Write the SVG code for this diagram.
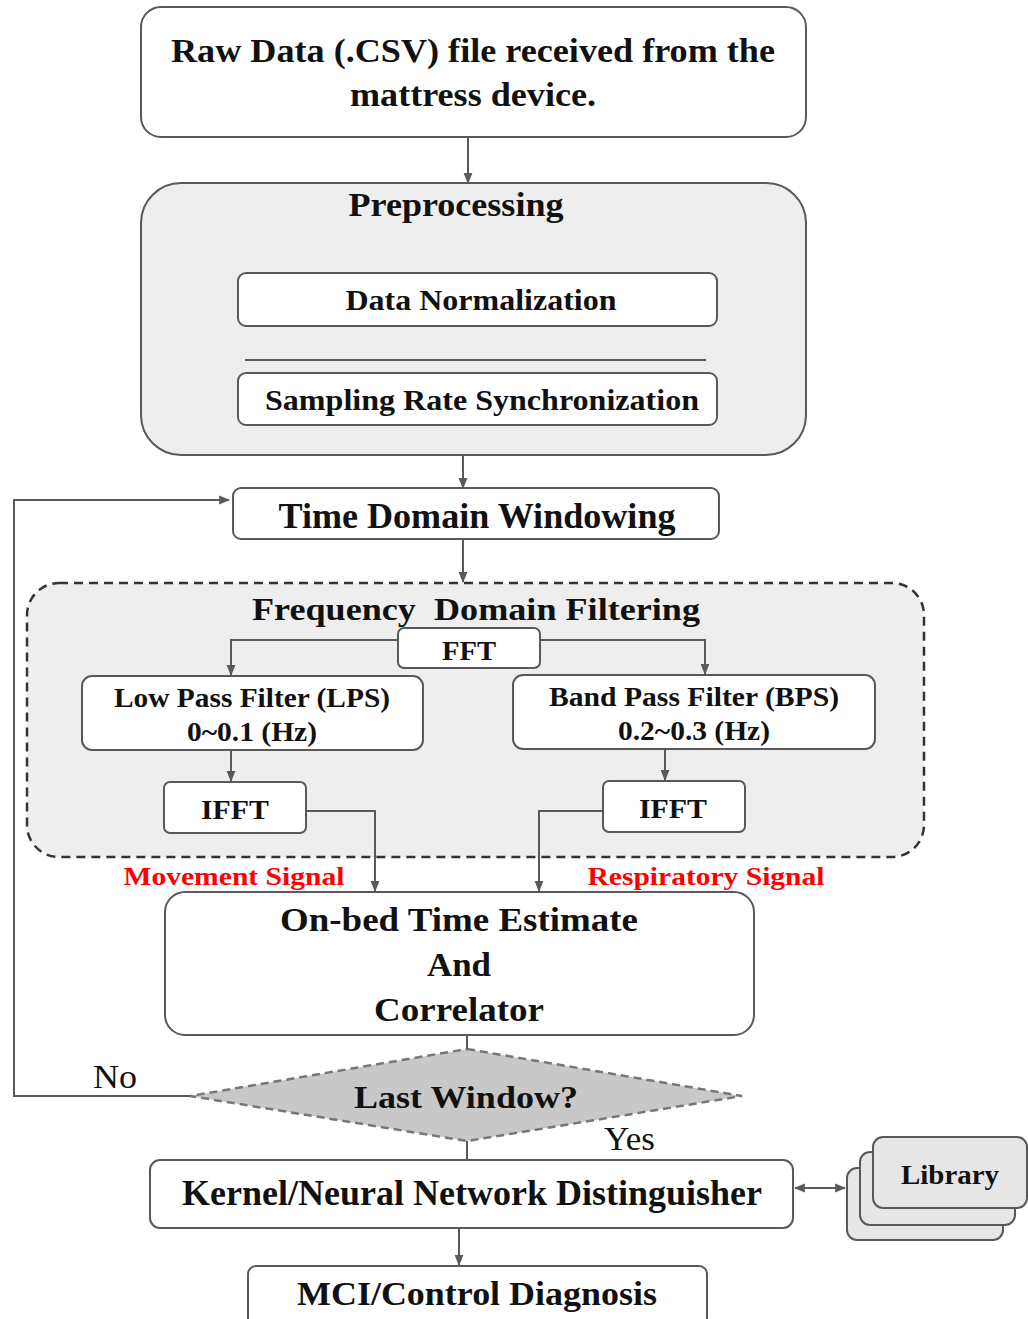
<svg xmlns="http://www.w3.org/2000/svg" width="1028" height="1319" viewBox="0 0 1028 1319">
<defs>
<marker id="ah" viewBox="0 0 10 10" refX="9" refY="5" markerWidth="11" markerHeight="11" markerUnits="userSpaceOnUse" orient="auto-start-reverse">
<path d="M0,1 L10,5 L0,9 Z" fill="#595959"/>
</marker>
<style>
.box{fill:#ffffff;stroke:#595959;stroke-width:2}
.grp{fill:#eeeeee;stroke:#595959;stroke-width:2}
.t{font-family:"Liberation Serif","Times New Roman",serif;font-weight:bold;fill:#111;text-anchor:middle}
.r{font-family:"Liberation Serif","Times New Roman",serif;fill:#111}
.red{fill:#ff0000}
.c{fill:none;stroke:#595959;stroke-width:2}
</style>
</defs>
<rect width="1028" height="1319" fill="#ffffff"/>

<g id="raw">
<rect class="box" x="141" y="7" width="665" height="130" rx="20"/>
<text class="t" x="473" y="62" font-size="33" textLength="604" lengthAdjust="spacingAndGlyphs">Raw Data (.CSV) file received from the</text>
<text class="t" x="473" y="106" font-size="33" textLength="246" lengthAdjust="spacingAndGlyphs">mattress device.</text>
</g>

<g id="preprocessing">
<rect class="grp" x="141" y="183" width="665" height="272" rx="40"/>
<text class="t" x="456" y="216" font-size="33" textLength="215" lengthAdjust="spacingAndGlyphs">Preprocessing</text>
<line x1="245" y1="360" x2="706" y2="360" stroke="#595959" stroke-width="2"/>
</g>
<g id="normalization">
<rect class="box" x="238" y="273" width="479" height="53" rx="8"/>
<text class="t" x="481" y="310" font-size="29" textLength="271" lengthAdjust="spacingAndGlyphs">Data Normalization</text>
</g>
<g id="sampling">
<rect class="box" x="238" y="373" width="479" height="52" rx="8"/>
<text class="t" x="482" y="410" font-size="29" textLength="434" lengthAdjust="spacingAndGlyphs">Sampling Rate Synchronization</text>
</g>

<g id="windowing">
<rect class="box" x="233" y="488" width="486" height="51" rx="8"/>
<text class="t" x="477" y="528" font-size="35" textLength="397" lengthAdjust="spacingAndGlyphs">Time Domain Windowing</text>
</g>

<g id="freq">
<rect x="27" y="583" width="897" height="274" rx="32" fill="#eeeeee" stroke="#333" stroke-width="2.5" stroke-dasharray="9,6"/>
<text class="t" x="476" y="620" font-size="32" textLength="448" lengthAdjust="spacingAndGlyphs" xml:space="preserve">Frequency  Domain Filtering</text>
</g>

<g id="fft">
<rect class="box" x="398" y="628" width="142" height="40" rx="6" stroke="#222"/>
<text class="t" x="469" y="660" font-size="27" textLength="54" lengthAdjust="spacingAndGlyphs">FFT</text>
</g>
<g id="lpf">
<rect class="box" x="82" y="676" width="341" height="74" rx="10"/>
<text class="t" x="252" y="707" font-size="27" textLength="276" lengthAdjust="spacingAndGlyphs">Low Pass Filter (LPS)</text>
<text class="t" x="252" y="741" font-size="27" textLength="130" lengthAdjust="spacingAndGlyphs">0~0.1 (Hz)</text>
</g>
<g id="bpf">
<rect class="box" x="513" y="675" width="362" height="74" rx="10"/>
<text class="t" x="694" y="706" font-size="27" textLength="290" lengthAdjust="spacingAndGlyphs">Band Pass Filter (BPS)</text>
<text class="t" x="694" y="740" font-size="27" textLength="152" lengthAdjust="spacingAndGlyphs">0.2~0.3 (Hz)</text>
</g>
<g id="ifft1">
<rect class="box" x="164" y="782" width="142" height="51" rx="6"/>
<text class="t" x="235" y="819" font-size="28" textLength="68" lengthAdjust="spacingAndGlyphs">IFFT</text>
</g>
<g id="ifft2">
<rect class="box" x="603" y="781" width="142" height="51" rx="6"/>
<text class="t" x="673" y="818" font-size="28" textLength="68" lengthAdjust="spacingAndGlyphs">IFFT</text>
</g>

<g id="labels">
<text class="t red" x="234" y="885" font-size="26" textLength="221" lengthAdjust="spacingAndGlyphs">Movement Signal</text>
<text class="t red" x="706" y="885" font-size="26" textLength="237" lengthAdjust="spacingAndGlyphs">Respiratory Signal</text>
<text class="r" x="93" y="1088" font-size="33" textLength="44" lengthAdjust="spacingAndGlyphs">No</text>
<text class="r" x="604" y="1150" font-size="33" textLength="51" lengthAdjust="spacingAndGlyphs">Yes</text>
</g>

<g id="onbed">
<rect class="box" x="165" y="892" width="589" height="143" rx="20" stroke="#111"/>
<text class="t" x="459" y="931" font-size="34" textLength="358" lengthAdjust="spacingAndGlyphs">On-bed Time Estimate</text>
<text class="t" x="459" y="976" font-size="34" textLength="64" lengthAdjust="spacingAndGlyphs">And</text>
<text class="t" x="459" y="1021" font-size="34" textLength="170" lengthAdjust="spacingAndGlyphs">Correlator</text>
</g>

<g id="decision">
<polygon points="467,1049 742,1096 467,1141 190,1096" fill="#c8c8c8" stroke="#777" stroke-width="2.5" stroke-dasharray="8,5"/>
<text class="t" x="466" y="1108" font-size="32" textLength="224" lengthAdjust="spacingAndGlyphs">Last Window?</text>
</g>

<g id="kernel">
<rect class="box" x="150" y="1160" width="643" height="68" rx="10"/>
<text class="t" x="472" y="1205" font-size="35" textLength="580" lengthAdjust="spacingAndGlyphs">Kernel/Neural Network Distinguisher</text>
</g>

<g id="library">
<rect x="847" y="1168" width="156" height="72" rx="10" fill="#e6e6e6" stroke="#595959" stroke-width="2"/>
<rect x="860" y="1152" width="155" height="73" rx="10" fill="#e6e6e6" stroke="#595959" stroke-width="2"/>
<rect x="873" y="1137" width="154" height="71" rx="10" fill="#e6e6e6" stroke="#595959" stroke-width="2"/>
<text class="t" x="950" y="1184" font-size="28" textLength="98" lengthAdjust="spacingAndGlyphs">Library</text>
</g>

<g id="diagnosis">
<rect class="box" x="248" y="1266" width="459" height="60" rx="8"/>
<text class="t" x="477" y="1305" font-size="34" textLength="360" lengthAdjust="spacingAndGlyphs">MCI/Control Diagnosis</text>
</g>

<g id="connectors">
<line class="c" x1="468" y1="137" x2="468" y2="183" marker-end="url(#ah)"/>
<line class="c" x1="463" y1="455" x2="463" y2="488" marker-end="url(#ah)"/>
<line class="c" x1="463" y1="539" x2="463" y2="582" marker-end="url(#ah)"/>
<polyline class="c" points="398,640 231,640 231,675" marker-end="url(#ah)"/>
<polyline class="c" points="540,640 705,640 705,674" marker-end="url(#ah)"/>
<line class="c" x1="231" y1="750" x2="231" y2="781" marker-end="url(#ah)"/>
<line class="c" x1="665" y1="749" x2="665" y2="780" marker-end="url(#ah)"/>
<polyline class="c" points="306,811 375,811 375,891" marker-end="url(#ah)"/>
<polyline class="c" points="603,811 539,811 539,891" marker-end="url(#ah)"/>
<line class="c" x1="467" y1="1035" x2="467" y2="1049"/>
<polyline class="c" points="190,1096 14,1096 14,500 229,500" marker-end="url(#ah)"/>
<line class="c" x1="467" y1="1141" x2="467" y2="1160"/>
<line class="c" x1="795" y1="1188" x2="845" y2="1188" marker-start="url(#ah)" marker-end="url(#ah)"/>
<line class="c" x1="459" y1="1228" x2="459" y2="1265" marker-end="url(#ah)"/>
</g>
</svg>
